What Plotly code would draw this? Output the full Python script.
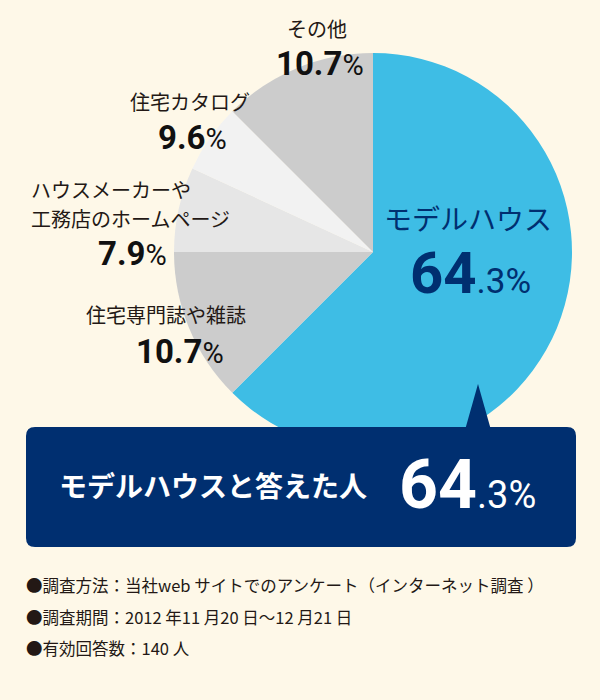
import plotly.graph_objects as go

# survey: where did you first find out about us
sources = ['モデルハウス', '住宅専門誌や雑誌', 'ハウスメーカーや<br>工務店のホームページ', '住宅カタログ', 'その他']
pct_text = ['64.3', '10.7', '7.9', '9.6', '10.7']
# slice sizes as drawn on the original artwork (it is not drawn to scale)
slice_size = [62.5, 12.5, 6.9, 5.6, 12.5]
slice_colors = ['#3ebde5', '#cccccc', '#e6e6e6', '#f2f2f2', '#cccccc']

callout_text = 'モデルハウスと答えた人'
notes = ['●調査方法：当社web サイトでのアンケート（インターネット調査 ）',
         '●調査期間：2012 年11 月20 日〜12 月21 日',
         '●有効回答数：140 人']

W, H = 600, 700
NAVY = '#002f70'
INK = '#231815'
JP = 'Noto Sans CJK JP'
NUM = 'Roboto'


def px(x):
    return x / W


def py(y):
    return 1 - y / H


def pct_html(p, big, small):
    whole, dec = p.split('.')
    if big > 40:
        return f'<b>{whole}</b><span style="font-size:{small}px">.{dec}%</span>'
    return f'<b>{whole}.{dec}</b><span style="font-size:{small}px">%</span>'


cx, cy, r = 373, 252, 199

fig = go.Figure()
fig.add_trace(go.Pie(
    values=slice_size, labels=sources, sort=False, direction='clockwise', rotation=0,
    marker=dict(colors=slice_colors, line=dict(width=0)),
    textinfo='none', hoverinfo='skip', showlegend=False,
    domain=dict(x=[px(cx - r), px(cx + r)], y=[py(cy + r), py(cy - r)]),
))

ann = []
# label / percentage positions for the grey slices (index into sources)
label_pos = {1: (166, 314, 'center'), 2: (31, 189, 'left'), 3: (190, 101, 'center'), 4: (317, 29, 'center')}
pct_pos = {1: (180, 351), 2: (132, 253), 3: (192, 137), 4: (320, 64)}
for i, (x, y, al) in label_pos.items():
    for k, part in enumerate(sources[i].split('<br>')):
        ann.append(dict(x=px(x), y=py(y + 30 * k), text=part, xanchor=al,
                        font=dict(family=JP, size=20, color=INK)))
for i, (x, y) in pct_pos.items():
    ann.append(dict(x=px(x), y=py(y), text=pct_html(pct_text[i], 33, 29),
                    font=dict(family=NUM, size=33, color='#111111')))

# main slice label
ann.append(dict(x=px(468), y=py(218), text=sources[0],
                font=dict(family=JP, size=28, color=NAVY)))
ann.append(dict(x=px(470), y=py(273), text=pct_html(pct_text[0], 58, 35),
                font=dict(family=NUM, size=58, color=NAVY)))

# callout box text
ann.append(dict(x=px(213), y=py(485), text=f'<b>{callout_text}</b>',
                font=dict(family=JP, size=28, color='white')))
ann.append(dict(x=px(467), y=py(485), text=pct_html(pct_text[0], 68, 38),
                font=dict(family=NUM, size=68, color='white')))

for k, line in enumerate(notes):
    ann.append(dict(x=px(26), y=py(585 + 31.5 * k), text=line, xanchor='left',
                    font=dict(family=JP, size=16.5, color=INK)))

for a in ann:
    a.update(xref='paper', yref='paper', showarrow=False, yanchor='middle',
             borderpad=0, borderwidth=0)
    a.setdefault('xanchor', 'center')

# rounded callout box + pointer
x0, x1, y0, y1, rr = 26, 576, 427, 547, 9
box = (f'M {px(x0 + rr)} {py(y0)} L {px(x1 - rr)} {py(y0)} Q {px(x1)} {py(y0)} {px(x1)} {py(y0 + rr)} '
       f'L {px(x1)} {py(y1 - rr)} Q {px(x1)} {py(y1)} {px(x1 - rr)} {py(y1)} '
       f'L {px(x0 + rr)} {py(y1)} Q {px(x0)} {py(y1)} {px(x0)} {py(y1 - rr)} '
       f'L {px(x0)} {py(y0 + rr)} Q {px(x0)} {py(y0)} {px(x0 + rr)} {py(y0)} Z')
pointer = f'M {px(465)} {py(430)} L {px(478)} {py(384)} L {px(491)} {py(430)} Z'
shapes = [dict(type='path', path=box, xref='paper', yref='paper', fillcolor=NAVY, line=dict(width=0), layer='above'),
          dict(type='path', path=pointer, xref='paper', yref='paper', fillcolor=NAVY, line=dict(width=0), layer='above')]

fig.update_layout(width=W, height=H, margin=dict(l=0, r=0, t=0, b=0),
                  paper_bgcolor='#fef8e8', plot_bgcolor='#fef8e8',
                  annotations=ann, shapes=shapes)

# the page's default body margin would push the chart 8px off the window
fig.write_html('out.html', config={'displayModeBar': False},
               post_script="document.body.style.margin='0';")
